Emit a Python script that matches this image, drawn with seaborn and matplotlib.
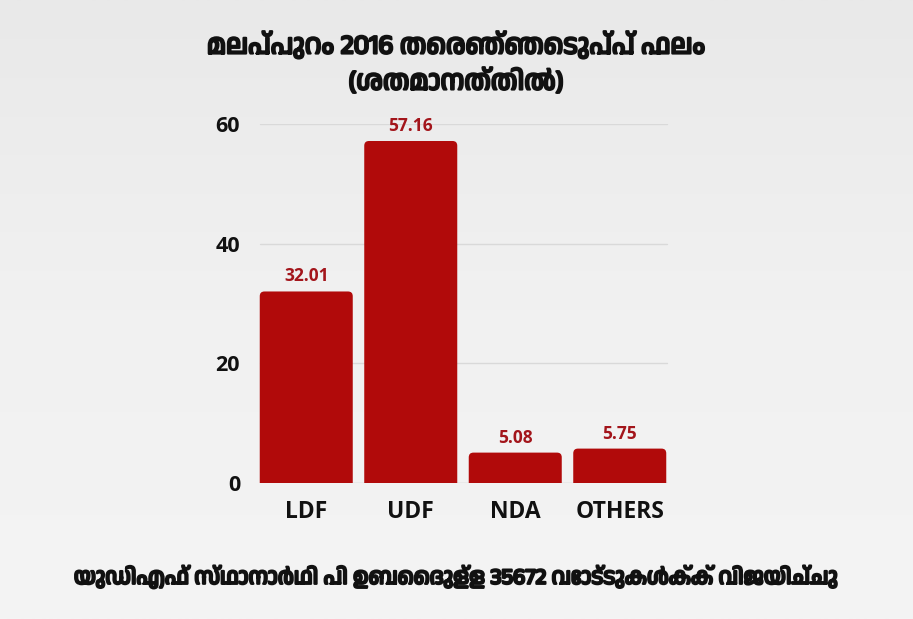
import matplotlib
matplotlib.use("Agg")
import matplotlib.pyplot as plt
from matplotlib import font_manager
from matplotlib.colors import LinearSegmentedColormap
from matplotlib.patches import FancyBboxPatch
import matplotlib.patheffects as pe
import seaborn as sns
import pandas as pd
import numpy as np

# data
parties = ["LDF", "UDF", "NDA", "OTHERS"]
vote_share = [32.01, 57.16, 5.08, 5.75]
y_ticks = [0, 20, 40, 60]

title_text = "മലപ്പുറം 2016 തെരഞ്ഞെടുപ്പ് ഫലം\n(ശതമാനത്തിൽ)"
footer_text = "യുഡിഎഫ് സ്ഥാനാർഥി പി ഉബൈദുള്ള 35672 വോട്ടുകൾക്ക് വിജയിച്ചു"

BAR_RED = "#b10a0a"
LABEL_RED = "#a3151b"
BG = "#f2f2f2"

sns.set_theme(style="white")

# look for any installed font with Malayalam glyphs, fall back to the sans families
mal_fonts = sorted({f.name for f in font_manager.fontManager.ttflist
                    if "malayalam" in f.name.lower() or "manjari" in f.name.lower()
                    or "rachana" in f.name.lower() or "meera" in f.name.lower()})
MAL_FAMILY = mal_fonts + ["Noto Sans", "DejaVu Sans"]
plt.rcParams["font.family"] = ["Open Sans", "DejaVu Sans"]

df = pd.DataFrame({"party": parties, "share": vote_share})

fig = plt.figure(figsize=(9.13, 6.19), dpi=100, facecolor=BG)

# soft grey backdrop, a bit darker at the top like the photo texture
bg_ax = fig.add_axes([0, 0, 1, 1], zorder=-10)
bg_cmap = LinearSegmentedColormap.from_list("bg", ["#e9e9e9", "#f1f1f1", "#f4f4f4"])
bg_ax.imshow(np.linspace(0, 1, 256).reshape(-1, 1), aspect="auto", cmap=bg_cmap,
             extent=[0, 1, 0, 1], origin="upper")
bg_ax.axis("off")

AX_L, AX_R = 254, 672
ax = fig.add_axes([AX_L / 913, 1 - 483 / 619, (AX_R - AX_L) / 913, 359 / 619])
ax.set_facecolor("none")

sns.barplot(data=df, x="party", y="share", color=BAR_RED, saturation=1,
            width=0.89, linewidth=0, ax=ax, zorder=3)
ax.set_ylim(0, 60)
ax.set_xlim(-0.5, 3.5)

# swap the plain bars for ones with slightly rounded tops
px_x = (AX_R - AX_L) / 4.0
px_y = 359 / 60.0
for p in list(ax.patches):
    x, w, h = p.get_x(), p.get_width(), p.get_height()
    p.set_visible(False)
    rb = FancyBboxPatch((x, -2), w, h + 2,
                        boxstyle="round,pad=0,rounding_size=0.045",
                        mutation_aspect=px_x / px_y,
                        facecolor=BAR_RED, edgecolor="none", zorder=3)
    ax.add_patch(rb)

for p, v in zip(ax.patches, vote_share):
    ax.text(p.get_x() + p.get_width() / 2, v + 1.0, f"{v:.2f}",
            ha="center", va="bottom", fontsize=12.5, fontweight="bold",
            color=LABEL_RED, zorder=4)

ax.set_yticks(y_ticks)
g0 = (260 - AX_L) / (AX_R - AX_L)
g1 = (667 - AX_L) / (AX_R - AX_L)
for t in y_ticks[1:]:
    ax.axhline(t, xmin=g0, xmax=g1, color="#d9d9d9", linewidth=1, zorder=0)
ax.axhline(0, xmin=g0, xmax=g1, color="#c8c8c8", linewidth=1, zorder=2)
ax.set_xlabel("")
ax.set_ylabel("")
for s in ax.spines.values():
    s.set_visible(False)
ax.tick_params(axis="both", length=0, labelcolor="#111111")
ax.tick_params(axis="x", pad=12, labelsize=16.5)
ax.tick_params(axis="y", pad=10, labelsize=15.5)
for lab in ax.get_xticklabels() + ax.get_yticklabels():
    lab.set_fontweight("bold")

bold_fx = [pe.withStroke(linewidth=1.6, foreground="#111111")]
fig.text(456 / 913, 1 - 63 / 619, title_text, ha="center", va="center",
         fontsize=19.5, fontweight="bold", color="#111111",
         family=MAL_FAMILY, linespacing=1.55, path_effects=bold_fx)
fig.text(456 / 913, 1 - 577 / 619, footer_text, ha="center", va="center",
         fontsize=16, fontweight="bold", color="#111111", family=MAL_FAMILY,
         path_effects=bold_fx)

fig.savefig("out.png", dpi=100, facecolor=BG)
